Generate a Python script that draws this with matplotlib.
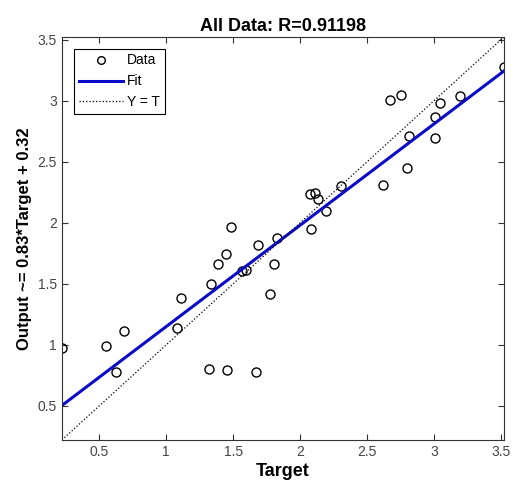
import numpy as np
import matplotlib
matplotlib.use('Agg')
import matplotlib.pyplot as plt

plt.rcParams['font.family'] = ['Liberation Sans', 'DejaVu Sans']

# Valores (Target, Output)
targets = [3.524, 2.675, 2.756, 3.046, 3.194, 3.006, 2.813, 3.006,
           2.796, 2.618, 2.304, 2.072, 2.111, 2.136, 2.193, 2.084,
           1.486, 1.827, 1.684, 1.447, 1.385, 1.802, 1.567, 1.593,
           1.333, 1.778, 1.113,
           0.681, 1.078, 0.552, 0.221, 0.622, 1.318, 1.456, 1.667]
outputs = [3.276, 3.008, 3.050, 2.983, 3.035, 2.864, 2.712, 2.696,
           2.450, 2.306, 2.298, 2.238, 2.246, 2.192, 2.100, 1.948,
           1.968, 1.873, 1.822, 1.745, 1.659, 1.659, 1.605, 1.613,
           1.497, 1.420, 1.380,
           1.115, 1.142, 0.987, 0.971, 0.776, 0.801, 0.793, 0.776]

fit_slope = 0.83
fit_intercept = 0.32
r_value = 0.91198
ticks = [0.5, 1, 1.5, 2, 2.5, 3, 3.5]

t = np.array(targets)
y = np.array(outputs)
lo = min(t.min(), y.min())
hi = max(t.max(), y.max())
xs = np.array([lo, hi])

fig = plt.figure(figsize=(5.16, 4.84), dpi=100)
ax = fig.add_axes([0.120, 0.091, 0.857, 0.833])

ax.plot(t, y, 'o', mfc='none', mec='black', ms=6.5, mew=1.0, label='Data')
ax.plot(xs, fit_slope * xs + fit_intercept, color='#0a0ac8', lw=2.2, label='Fit')
ax.plot(xs, xs, ':', color='black', lw=0.9, label='Y = T')

ax.set_xlim(lo, hi)
ax.set_ylim(lo, hi)
ax.set_xticks(ticks)
ax.set_yticks(ticks)
ax.set_xticklabels([f'{v:g}' for v in ticks])
ax.set_yticklabels([f'{v:g}' for v in ticks])
ax.tick_params(direction='in', top=True, right=True, length=4, width=0.8,
               labelsize=10, labelcolor='#444444', color='#333333')
for s in ax.spines.values():
    s.set_color('#333333')
    s.set_linewidth(0.8)

ax.set_title(f'All Data: R={r_value:.5f}', fontsize=13, fontweight='bold', pad=4)
ax.set_xlabel('Target', fontsize=13, fontweight='bold', labelpad=3)
ax.set_ylabel(f'Output ~= {fit_slope:.2f}*Target + {fit_intercept:.2f}',
              fontsize=12, fontweight='bold', labelpad=4)

leg = ax.legend(loc='upper left', fontsize=10, fancybox=False, framealpha=1,
                edgecolor='black', borderpad=0.35, handlelength=3.2,
                handletextpad=0.3, labelspacing=0.5, borderaxespad=0.85)
leg.get_frame().set_linewidth(0.8)
leg.legend_handles[0].set_markersize(5.5)

fig.savefig('out.png', dpi=100)
